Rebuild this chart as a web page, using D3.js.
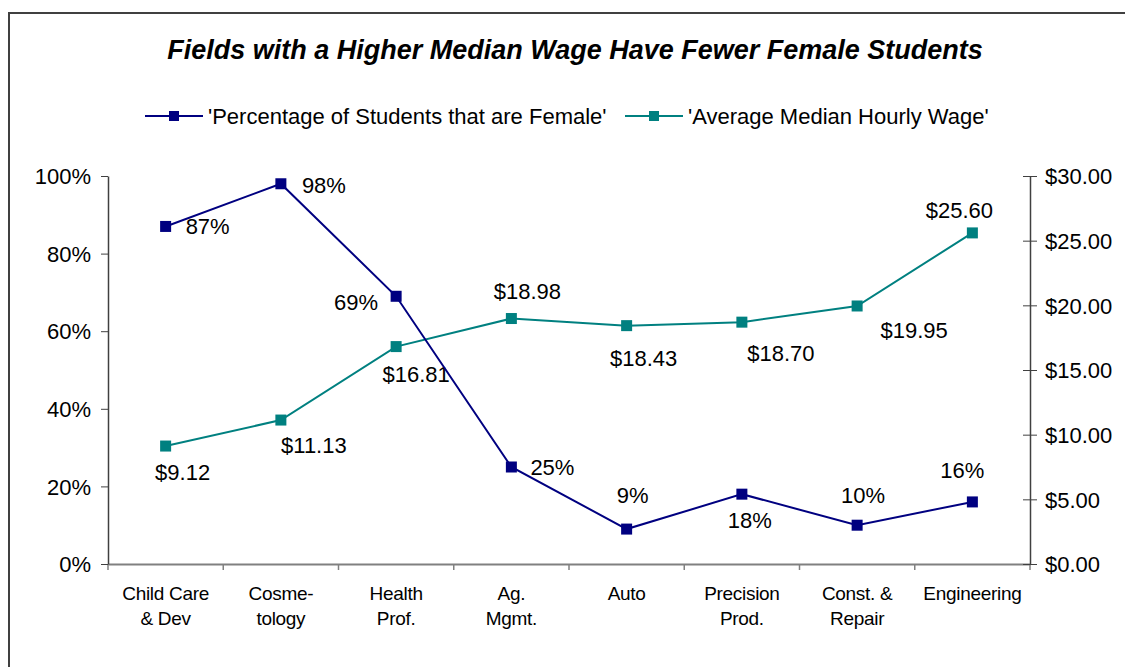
<!DOCTYPE html>
<html>
<head>
<meta charset="utf-8">
<script src="https://cdn.jsdelivr.net/npm/d3@7"></script>
<style>
    body { margin: 0; background: #fff; }
    svg text { font-family: "Liberation Sans", Arial, sans-serif; fill: #000; }
</style>
</head>
<body>
<svg id="chart" width="1125" height="667"></svg>
<script>
(function () {
    'use strict'

    // data
    var categories = [['Child Care', '& Dev'], ['Cosme-', 'tology'], ['Health', 'Prof.'], ['Ag.', 'Mgmt.'],
        ['Auto'], ['Precision', 'Prod.'], ['Const. &', 'Repair'], ['Engineering']]
    var pctFemale = [0.87, 0.98, 0.69, 0.25, 0.09, 0.18, 0.10, 0.16]
    var wage = [9.12, 11.13, 16.81, 18.98, 18.43, 18.70, 19.95, 25.60]
    var pctTicks = [0, 0.2, 0.4, 0.6, 0.8, 1]
    var wageTicks = [0, 5, 10, 15, 20, 25, 30]

    // where each data label sits relative to its point [dx, dy, anchor]
    var pctLabelPos = [[20, 0, 'start'], [21, 2, 'start'], [-18, 6, 'end'], [19, 0, 'start'],
        [6, -34, 'middle'], [8, 26, 'middle'], [6, -30, 'middle'], [-10, -32, 'middle']]
    var wageLabelPos = [[17, 26, 'middle'], [33, 25, 'middle'], [20, 28, 'middle'], [16, -27, 'middle'],
        [17, 33, 'middle'], [39, 31, 'middle'], [57, 24, 'middle'], [-13, -23, 'middle']]

    var navy = '#000080', teal = '#008080'
    var margin = { top: 176, right: 95, bottom: 103, left: 108 },
        width = 1125 - margin.left - margin.right,
        height = 667 - margin.top - margin.bottom

    var svg = d3.select('#chart')

    // outer frame (cut off on the right and bottom)
    svg.append('rect')
        .attr('x', 9).attr('y', 13)
        .attr('width', 1140).attr('height', 700)
        .attr('fill', 'none')
        .attr('stroke', '#404040')
        .attr('stroke-width', 2)

    svg.append('text')
        .attr('x', 575).attr('y', 59)
        .attr('text-anchor', 'middle')
        .style('font-size', '27px')
        .style('font-weight', 'bold')
        .style('font-style', 'italic')
        .text('Fields with a Higher Median Wage Have Fewer Female Students')

    // legend
    var legend = [
        { name: "'Percentage of Students that are Female'", color: navy, x: 145 },
        { name: "'Average Median Hourly Wage'", color: teal, x: 625 }
    ]
    var lg = svg.selectAll('g.legend').data(legend).enter().append('g')
        .attr('class', 'legend')
        .attr('transform', function (d) { return 'translate(' + d.x + ',116)' })
    lg.append('line').attr('x1', 0).attr('x2', 58)
        .attr('stroke', function (d) { return d.color }).attr('stroke-width', 2)
    lg.append('rect').attr('x', 24).attr('y', -5).attr('width', 10).attr('height', 10)
        .attr('fill', function (d) { return d.color })
    lg.append('text').attr('x', 63).attr('y', 0).attr('dy', '0.35em')
        .style('font-size', '22px')
        .text(function (d) { return d.name })

    var g = svg.append('g')
        .attr('transform', 'translate(' + margin.left + ',' + margin.top + ')')

    var x = d3.scaleBand().domain(d3.range(categories.length)).range([0, width])
    var yL = d3.scaleLinear().domain([0, 1]).range([height, 0])
    var yR = d3.scaleLinear().domain([0, 30]).range([height, 0])
    var cx = function (i) { return x(i) + x.bandwidth() / 2 }

    // x axis
    var xAxis = g.append('g')
        .attr('transform', 'translate(0,' + height + ')')
        .call(d3.axisBottom(x).tickSize(0).tickFormat(''))
    xAxis.select('.domain').attr('stroke', '#808080').attr('stroke-width', 2)
    xAxis.selectAll('.xtick').data(d3.range(categories.length + 1)).enter().append('line')
        .attr('class', 'xtick')
        .attr('x1', function (i) { return i * x.bandwidth() })
        .attr('x2', function (i) { return i * x.bandwidth() })
        .attr('y1', 0).attr('y2', 6)
        .attr('stroke', '#808080').attr('stroke-width', 1.5)
    var catLabel = xAxis.selectAll('.cat').data(categories).enter().append('text')
        .attr('class', 'cat')
        .attr('text-anchor', 'middle')
        .attr('transform', function (d, i) { return 'translate(' + cx(i) + ',36)' })
        .style('font-size', '19px')
        .style('letter-spacing', '-0.3px')
    catLabel.selectAll('tspan').data(function (d) { return d }).enter().append('tspan')
        .attr('x', 0)
        .attr('dy', function (d, j) { return j === 0 ? 0 : 25 })
        .text(function (d) { return d })

    // left axis
    var leftAxis = g.append('g')
        .call(d3.axisLeft(yL).tickValues(pctTicks).tickSize(7).tickSizeOuter(0)
            .tickFormat(d3.format('.0%')))
    leftAxis.select('.domain').attr('stroke', '#404040').attr('stroke-width', 1.5)
    leftAxis.selectAll('.tick line').attr('stroke', '#404040')
    leftAxis.selectAll('.tick text').attr('x', -17).attr('dy', '0.35em')
        .style('font-size', '22px').style('font-family', '"Liberation Sans", Arial, sans-serif')

    // right axis
    var rightAxis = g.append('g')
        .attr('transform', 'translate(' + width + ',0)')
        .call(d3.axisRight(yR).tickValues(wageTicks).tickSize(7).tickSizeOuter(0)
            .tickFormat(function (d) { return '$' + d3.format('.2f')(d) }))
    rightAxis.select('.domain').attr('stroke', '#404040').attr('stroke-width', 1.5)
    rightAxis.selectAll('.tick line').attr('x1', -7).attr('stroke', '#404040')
    rightAxis.selectAll('.tick text').attr('x', 15).attr('dy', '0.35em')
        .style('font-size', '22px').style('font-family', '"Liberation Sans", Arial, sans-serif')

    // series
    function drawSeries(values, scale, color, labelPos, fmt) {
        g.append('path')
            .datum(values)
            .attr('fill', 'none')
            .attr('stroke', color)
            .attr('stroke-width', 2)
            .attr('d', d3.line().x(function (d, i) { return cx(i) }).y(function (d) { return scale(d) }))
        g.selectAll(null).data(values).enter().append('rect')
            .attr('x', function (d, i) { return cx(i) - 5.5 })
            .attr('y', function (d) { return scale(d) - 5.5 })
            .attr('width', 11).attr('height', 11)
            .attr('fill', color)
        g.selectAll(null).data(values).enter().append('text')
            .attr('x', function (d, i) { return cx(i) + labelPos[i][0] })
            .attr('y', function (d, i) { return scale(d) + labelPos[i][1] })
            .attr('dy', '0.35em')
            .attr('text-anchor', function (d, i) { return labelPos[i][2] })
            .style('font-size', '22px')
            .text(fmt)
    }

    drawSeries(wage, yR, teal, wageLabelPos, function (d) { return '$' + d3.format('.2f')(d) })
    drawSeries(pctFemale, yL, navy, pctLabelPos, d3.format('.0%'))
})()
</script>
</body>
</html>
